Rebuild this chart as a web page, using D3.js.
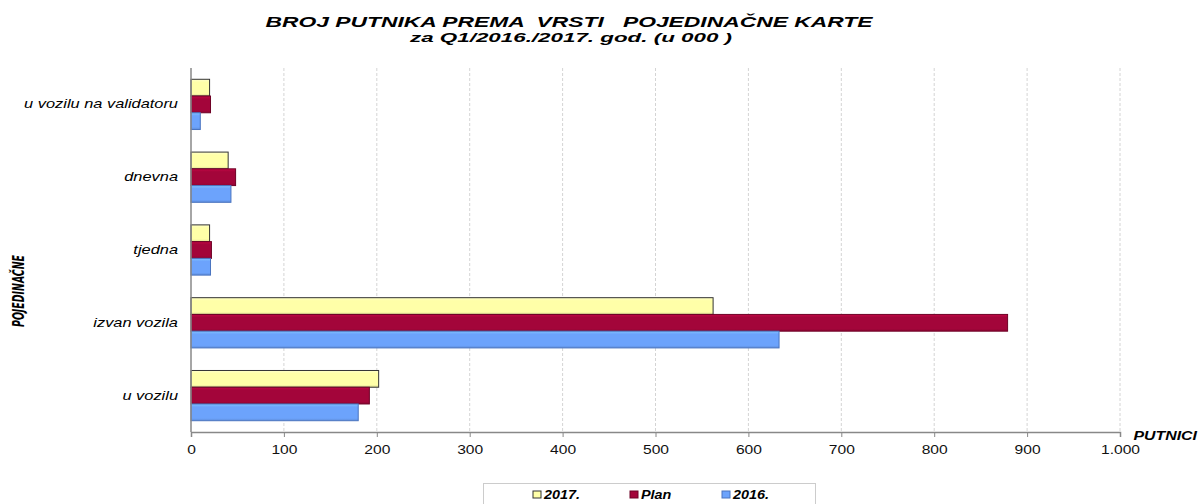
<!DOCTYPE html>
<html>
<head>
<meta charset="utf-8">
<script src="https://cdn.jsdelivr.net/npm/d3@7"></script>
<style>
  body { margin: 0; background: #fff; }
  text { font-family: "Liberation Sans", Arial, sans-serif; }
</style>
</head>
<body>
<svg id="chart" width="1200" height="504"></svg>
<script>
const categories = ["u vozilu na validatoru", "dnevna", "tjedna", "izvan vozila", "u vozilu"];
const seriesNames = ["2017.", "Plan", "2016."];
const values2017 = [20, 40, 20, 562, 202];
const valuesPlan = [21, 48, 22, 879, 192];
const values2016 = [10, 43, 21, 633, 180];
const xTicks = [0, 100, 200, 300, 400, 500, 600, 700, 800, 900, 1000];

const colors = { "2017.": "#FFFFA8", "Plan": "#A3053A", "2016.": "#6CA3FC" };
const edges = { "2017.": "#333", "Plan": "#6e0226", "2016.": "#4a74c0" };

const svg = d3.select("#chart");
const plotLeft = 191, plotRight = 1120, plotTop = 68, plotBottom = 432;

const x = d3.scaleLinear().domain([0, 1000]).range([plotLeft, plotRight]);
const y = d3.scaleBand().domain(categories).range([plotTop, plotBottom]).paddingInner(0.31).paddingOuter(0.155);
const inner = d3.scaleBand().domain(seriesNames).range([0, y.bandwidth()]);

const series = seriesNames.map((s, i) => ({
  name: s,
  values: [values2017, valuesPlan, values2016][i]
}));

// the original uses a horizontally stretched font
function stretch(sel, k) {
  sel.each(function() {
    const w = this.getComputedTextLength();
    d3.select(this).attr("textLength", w * k).attr("lengthAdjust", "spacingAndGlyphs");
  });
}

// gradients for a slight bevel
const defs = svg.append("defs");
seriesNames.forEach((s, i) => {
  const g = defs.append("linearGradient").attr("id", "g" + i).attr("x1", 0).attr("y1", 0).attr("x2", 0).attr("y2", 1);
  g.append("stop").attr("offset", "0%").attr("stop-color", d3.color(colors[s]).brighter(0.5));
  g.append("stop").attr("offset", "18%").attr("stop-color", colors[s]);
  g.append("stop").attr("offset", "85%").attr("stop-color", colors[s]);
  g.append("stop").attr("offset", "100%").attr("stop-color", d3.color(colors[s]).darker(0.4));
});

// grid
svg.append("g").selectAll("line")
  .data(xTicks.slice(1))
  .enter().append("line")
  .attr("x1", d => x(d)).attr("x2", d => x(d))
  .attr("y1", plotTop).attr("y2", plotBottom)
  .style("stroke", "#d4d4d4")
  .style("stroke-dasharray", "3 2");

// bars
series.forEach((s, i) => {
  svg.append("g").selectAll("rect")
    .data(s.values)
    .enter().append("rect")
    .attr("x", x(0))
    .attr("y", (d, j) => y(categories[j]) + inner(s.name))
    .attr("width", d => x(d) - x(0))
    .attr("height", inner.bandwidth())
    .style("fill", "url(#g" + i + ")")
    .style("stroke", edges[s.name])
    .style("stroke-width", 1);
});

// axes
const xAxis = svg.append("g").attr("transform", `translate(0,${plotBottom})`)
  .call(d3.axisBottom(x).tickValues(xTicks).tickSize(5)
    .tickFormat(d => d3.format(",")(d).replace(",", ".")));
xAxis.select(".domain").style("stroke", "#888").style("stroke-width", 1.5);
xAxis.selectAll(".tick line").style("stroke", "#888");
xAxis.selectAll("text").attr("dy", "1.1em").style("font-size", "13px").style("fill", "#111")
  .call(stretch, 1.2);

svg.append("line").attr("x1", plotLeft).attr("x2", plotLeft).attr("y1", plotTop).attr("y2", plotBottom)
  .style("stroke", "#888").style("stroke-width", 1.5);

svg.append("g").selectAll("text")
  .data(categories)
  .enter().append("text")
  .attr("x", 178)
  .attr("y", d => y(d) + y.bandwidth() / 2 + 4)
  .attr("text-anchor", "end")
  .style("font-style", "italic")
  .style("font-size", "13px")
  .text(d => d)
  .call(stretch, 1.26);

// titles
svg.append("text").attr("x", 569).attr("y", 27).attr("text-anchor", "middle")
  .style("font-weight", "bold").style("font-style", "italic").style("font-size", "14px")
  .style("white-space", "pre").text("BROJ PUTNIKA PREMA  VRSTI   POJEDINAČNE KARTE")
  .attr("textLength", 607).attr("lengthAdjust", "spacingAndGlyphs");
svg.append("text").attr("x", 571).attr("y", 42).attr("text-anchor", "middle")
  .style("font-weight", "bold").style("font-style", "italic").style("font-size", "13.5px")
  .text("za Q1/2016./2017. god. (u 000 )")
  .attr("textLength", 322).attr("lengthAdjust", "spacingAndGlyphs");

svg.append("text").attr("x", 1197).attr("y", 440).attr("text-anchor", "end")
  .style("font-weight", "bold").style("font-style", "italic").style("font-size", "13px")
  .text("PUTNICI")
  .call(stretch, 1.22);

svg.append("text")
  .attr("transform", "translate(24,291) rotate(-90)")
  .attr("text-anchor", "middle")
  .style("font-family", "'Liberation Sans Narrow', 'DejaVu Sans Condensed', sans-serif")
  .style("font-weight", "bold").style("font-style", "italic").style("font-size", "16px")
  .text("POJEDINAČNE")
  .attr("textLength", 72).attr("lengthAdjust", "spacingAndGlyphs");

// legend
svg.append("rect").attr("x", 483.5).attr("y", 483.5).attr("width", 332).attr("height", 30)
  .style("fill", "none").style("stroke", "#999").style("stroke-dasharray", "1 1");
const legendX = [533, 630, 722];
const leg = svg.append("g").selectAll("g")
  .data(seriesNames)
  .enter().append("g")
  .attr("transform", (d, i) => `translate(${legendX[i]},495)`);
leg.append("rect").attr("x", 0).attr("y", -4).attr("width", 8).attr("height", 7)
  .style("fill", d => colors[d]).style("stroke", d => edges[d]);
leg.append("text").attr("x", 11).attr("y", 4)
  .style("font-weight", "bold").style("font-style", "italic").style("font-size", "12px")
  .text(d => d)
  .call(stretch, 1.2);
</script>
</body>
</html>
